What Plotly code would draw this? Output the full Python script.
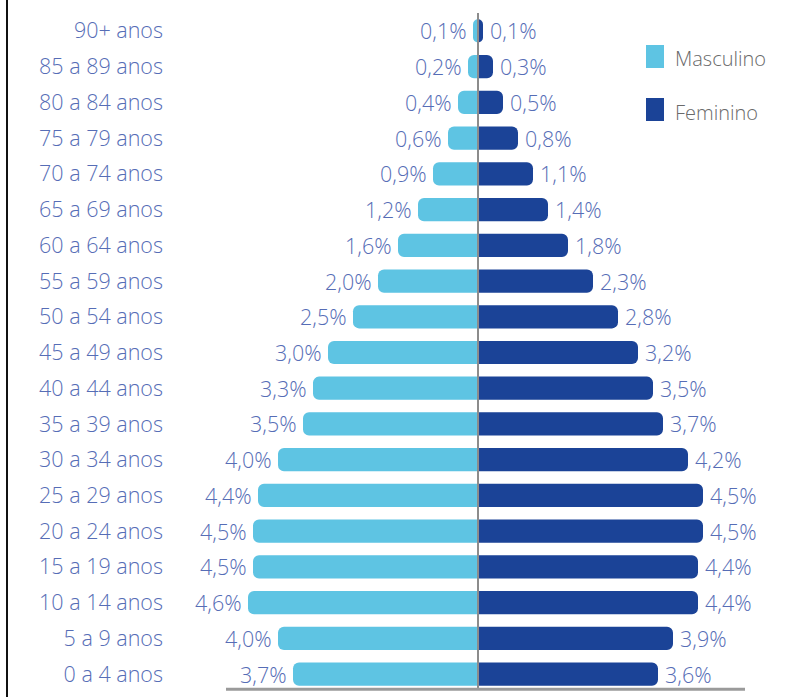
import plotly.graph_objects as go

# Age groups, bottom to top
age_groups = [
    "0 a 4 anos", "5 a 9 anos", "10 a 14 anos", "15 a 19 anos", "20 a 24 anos",
    "25 a 29 anos", "30 a 34 anos", "35 a 39 anos", "40 a 44 anos", "45 a 49 anos",
    "50 a 54 anos", "55 a 59 anos", "60 a 64 anos", "65 a 69 anos", "70 a 74 anos",
    "75 a 79 anos", "80 a 84 anos", "85 a 89 anos", "90+ anos",
]
# Share of total population (%)
masculino = [3.7, 4.0, 4.6, 4.5, 4.5, 4.4, 4.0, 3.5, 3.3, 3.0,
             2.5, 2.0, 1.6, 1.2, 0.9, 0.6, 0.4, 0.2, 0.1]
feminino = [3.6, 3.9, 4.4, 4.4, 4.5, 4.5, 4.2, 3.7, 3.5, 3.2,
            2.8, 2.3, 1.8, 1.4, 1.1, 0.8, 0.5, 0.3, 0.1]

COL_M = "#5EC4E3"
COL_F = "#1B4397"
TXT = "#566DB6"
FONT = "Open Sans"
FS = 21.5

def fmt(v):
    return f"{v:.1f}".replace(".", ",") + "%"

fig = go.Figure()
fig.add_trace(go.Bar(
    y=age_groups, x=[-v for v in masculino], orientation="h",
    marker=dict(color=COL_M, line=dict(width=0)), name="Masculino",
    hoverinfo="skip", width=0.65,
))
fig.add_trace(go.Bar(
    y=age_groups, x=feminino, orientation="h",
    marker=dict(color=COL_F, line=dict(width=0)), name="Feminino",
    hoverinfo="skip", width=0.65,
))

annotations = []
for cat, m, f in zip(age_groups, masculino, feminino):
    annotations.append(dict(x=-m, y=cat, xref="x", yref="y", text=fmt(m),
                            showarrow=False, xanchor="right", xshift=-4,
                            font=dict(family=FONT, size=FS, color=TXT, weight=300)))
    annotations.append(dict(x=f, y=cat, xref="x", yref="y", text=fmt(f),
                            showarrow=False, xanchor="left", xshift=5,
                            font=dict(family=FONT, size=FS, color=TXT, weight=300)))

# Legend, drawn as swatches and labels
legend_items = [("Masculino", COL_M, 0.0), ("Feminino", COL_F, 1.0)]
shapes = []
for label, col, i in legend_items:
    top = 45 + i * 53
    shapes.append(dict(type="rect", xref="paper", yref="paper",
                       x0=(646 - 168) / 632, x1=(664 - 168) / 632,
                       y0=1 - (top - 13) / 679, y1=1 - (top + 23 - 13) / 679,
                       fillcolor=col, line=dict(width=0)))
    annotations.append(dict(xref="paper", yref="paper",
                            x=(673 - 168) / 632, y=1 - (top + 14 - 13) / 679,
                            text=label, showarrow=False, xanchor="left", yanchor="middle",
                            font=dict(family=FONT, size=20, color="#6A6A6A", weight=300)))

# Central axis line and baseline
shapes.append(dict(type="line", xref="x", yref="paper", x0=0, x1=0, y0=0.004, y1=1.0,
                   line=dict(color="#8C8C8C", width=2)))
shapes.append(dict(type="line", xref="x", yref="paper", x0=-5.04, x1=5.34, y0=0.004, y1=0.004,
                   line=dict(color="#9A9A9A", width=3)))
# Left frame rule
shapes.append(dict(type="line", xref="paper", yref="paper",
                   x0=(7 - 168) / 632, x1=(7 - 168) / 632, y0=-0.05, y1=1.05,
                   line=dict(color="#111111", width=2)))

fig.update_layout(
    width=805, height=697,
    margin=dict(l=168, r=5, t=13, b=5),
    paper_bgcolor="white", plot_bgcolor="white",
    barmode="overlay", barcornerradius=6,
    showlegend=False,
    shapes=shapes, annotations=annotations,
    xaxis=dict(range=[-6.2, 6.44], visible=False, fixedrange=True),
    yaxis=dict(categoryorder="array", categoryarray=age_groups, range=[-0.5, 18.5],
               showgrid=False, zeroline=False, showline=False, ticks="",
               ticklabelstandoff=4,
               tickfont=dict(family=FONT, size=FS, color=TXT, weight=300)),
)

fig.write_html("out.html")
